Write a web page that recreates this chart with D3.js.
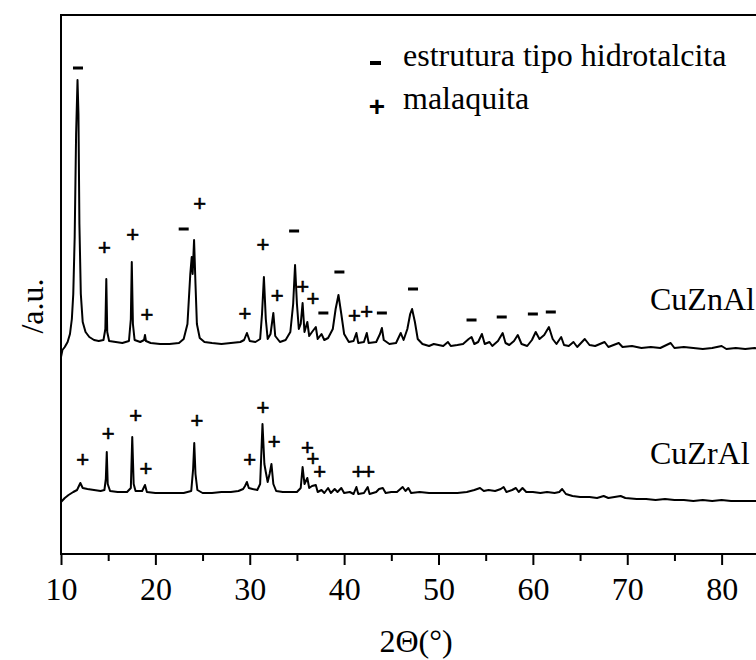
<!DOCTYPE html>
<html>
<head>
<meta charset="utf-8">
<script src="https://cdn.jsdelivr.net/npm/d3@7"></script>
<style>
  html, body { margin: 0; padding: 0; background: #fff; overflow: hidden; }
  svg { display: block; }
  svg text { font-family: "Liberation Serif", "Times New Roman", Times, serif; }
</style>
</head>
<body>
<svg id="chart"></svg>
<script>
// XRD patterns, [2theta, intensity (a.u.)]
const cuZnAl = [
  [10.0, 197], [10.15, 204], [10.4, 207], [10.7, 212], [10.95, 220], [11.15, 235],
  [11.3, 260], [11.45, 317], [11.6, 420], [11.75, 474], [11.85, 440], [11.95, 330],
  [12.1, 260], [12.3, 232], [12.6, 222], [13.0, 217], [13.5, 214], [14.0, 213],
  [14.5, 214], [14.7, 225], [14.8, 275], [14.9, 222], [15.1, 213], [15.8, 212],
  [16.5, 211], [17.2, 213], [17.4, 235], [17.5, 292], [17.62, 230], [17.8, 214],
  [18.4, 212], [18.8, 214], [18.9, 219], [19.0, 213], [19.5, 211], [20.5, 210],
  [21.5, 210], [22.5, 211], [23.0, 215], [23.4, 230], [23.7, 280], [23.85, 297],
  [23.95, 280], [24.1, 314], [24.25, 270], [24.4, 230], [24.7, 216], [25.2, 212],
  [26.0, 211], [27.0, 210], [28.0, 211], [29.0, 212], [29.4, 214], [29.7, 221],
  [30.0, 213], [30.6, 212], [31.1, 215], [31.3, 240], [31.5, 277], [31.7, 235],
  [31.9, 215], [32.2, 220], [32.5, 241], [32.7, 218], [33.2, 212], [33.8, 214],
  [34.3, 222], [34.6, 250], [34.8, 289], [35.0, 250], [35.2, 225], [35.4, 230],
  [35.6, 251], [35.8, 222], [36.1, 232], [36.3, 218], [36.6, 222], [37.0, 227],
  [37.2, 215], [37.6, 220], [37.9, 214], [38.3, 216], [38.8, 225], [39.1, 245],
  [39.4, 259], [39.7, 240], [40.0, 220], [40.5, 212], [41.0, 213], [41.3, 221],
  [41.5, 211], [42.1, 212], [42.4, 221], [42.6, 211], [43.4, 212], [43.8, 220],
  [44.0, 226], [44.2, 214], [44.8, 210], [45.5, 211], [46.0, 221], [46.3, 214],
  [46.7, 225], [47.0, 240], [47.2, 245], [47.5, 232], [47.8, 215], [48.3, 210],
  [49.0, 208], [49.5, 210], [50.0, 209], [50.5, 208], [51.0, 212], [51.3, 208],
  [52.0, 209], [52.6, 210], [53.2, 215], [53.5, 217], [53.8, 210], [54.2, 212],
  [54.6, 220], [54.9, 210], [55.4, 212], [55.7, 208], [56.3, 213], [56.8, 221],
  [57.1, 211], [57.5, 209], [58.0, 213], [58.4, 219], [58.8, 210], [59.4, 208],
  [59.9, 214], [60.3, 222], [60.7, 215], [61.2, 219], [61.7, 227], [62.1, 215],
  [62.5, 210], [63.0, 217], [63.3, 209], [63.8, 208], [64.3, 212], [64.7, 207],
  [65.5, 215], [66.0, 209], [66.6, 208], [67.6, 212], [68.0, 207], [69.1, 211],
  [69.5, 207], [70.5, 208], [71.5, 206], [72.5, 207], [73.5, 206], [74.6, 211],
  [75.0, 206], [76.0, 207], [77.0, 206], [78.0, 205], [79.0, 206], [80.0, 208],
  [80.5, 205], [81.5, 206], [82.5, 205], [83.5, 206], [84.0, 205]
];

const cuZrAl = [
  [10.0, 52], [10.4, 56], [10.8, 59], [11.3, 62], [11.7, 64], [11.9, 68],
  [12.05, 71], [12.3, 66], [12.8, 65], [13.5, 64], [14.2, 63], [14.6, 64],
  [14.75, 75], [14.85, 102], [14.95, 70], [15.2, 63], [16.0, 62], [17.0, 62],
  [17.4, 66], [17.55, 117], [17.7, 70], [17.9, 63], [18.6, 63], [18.9, 69],
  [19.1, 62], [20.0, 61], [21.0, 61], [22.0, 61], [23.0, 61], [23.8, 63],
  [24.0, 85], [24.12, 111], [24.25, 80], [24.45, 64], [25.0, 61], [26.0, 61],
  [27.0, 62], [28.0, 62], [28.8, 63], [29.3, 65], [29.5, 68], [29.7, 72],
  [29.9, 66], [30.3, 65], [30.8, 64], [31.1, 70], [31.35, 130], [31.55, 90],
  [31.7, 82], [31.9, 72], [32.1, 80], [32.3, 90], [32.5, 70], [32.8, 63],
  [33.5, 62], [34.2, 62], [35.0, 62], [35.4, 66], [35.6, 87], [35.8, 70],
  [36.1, 76], [36.3, 66], [36.6, 68], [37.0, 69], [37.2, 62], [37.6, 64],
  [37.9, 61], [38.3, 66], [38.6, 61], [39.0, 65], [39.3, 62], [39.7, 66],
  [40.0, 61], [40.6, 62], [41.0, 60], [41.3, 67], [41.5, 60], [42.1, 61],
  [42.5, 67], [42.7, 60], [43.4, 62], [43.7, 65], [44.1, 66], [44.4, 61],
  [45.0, 62], [45.6, 62], [46.2, 67], [46.5, 63], [46.8, 66], [47.1, 61],
  [48.0, 62], [49.0, 61], [50.0, 61], [51.0, 61], [52.0, 61], [53.0, 62],
  [53.8, 64], [54.4, 66], [54.8, 63], [55.3, 64], [56.0, 63], [56.6, 65],
  [56.9, 67], [57.2, 62], [57.8, 64], [58.2, 66], [58.5, 62], [58.9, 66],
  [59.3, 62], [60.0, 62], [60.8, 61], [61.5, 62], [62.3, 61], [62.8, 62],
  [63.1, 65], [63.5, 60], [64.2, 58], [65.0, 57], [66.0, 57], [66.8, 56],
  [67.5, 58], [68.0, 56], [69.3, 58], [69.8, 56], [71.0, 55], [72.0, 55],
  [73.0, 54], [74.0, 55], [75.0, 54], [76.0, 54], [77.0, 53], [78.0, 54],
  [79.0, 53], [80.0, 54], [81.0, 53], [82.0, 53], [83.0, 53], [84.0, 53]
];

// phase markers: [2theta, intensity]
const hydrotalciteMarks = [
  [11.8, 486], [23.0, 325], [34.7, 323], [37.8, 241], [39.5, 282], [44.0, 241],
  [47.3, 265], [53.5, 234], [56.7, 237], [60.0, 240], [61.9, 242]
];
const malachiteMarks = [
  // CuZnAl
  [14.6, 307], [17.6, 320], [19.1, 240], [24.7, 351], [29.5, 241], [31.4, 310],
  [32.9, 259], [35.6, 268], [36.7, 256], [41.1, 239], [42.4, 243],
  // CuZrAl
  [12.3, 95], [15.0, 121], [17.9, 139], [19.0, 86], [24.4, 134], [30.0, 95],
  [31.4, 147], [32.6, 113], [36.1, 107], [36.7, 96], [37.4, 83], [41.5, 83],
  [42.6, 83]
];

const sampleNames = ['CuZnAl', 'CuZrAl'];
const legendLabels = ['estrutura tipo hidrotalcita', 'malaquita'];
const majorTicks = [10, 20, 30, 40, 50, 60, 70, 80];
const minorTicks = [15, 25, 35, 45, 55, 65, 75];

const CONFIG = {
  width: 756,
  height: 660,
  left: 61,
  top: 15,
  bottom: 554,
  right: 816,
  serif: '"Liberation Serif", "Times New Roman", Times, serif',
  sans: '"Liberation Sans", Arial, sans-serif'
};

const svg = d3.select('#chart')
  .attr('width', CONFIG.width)
  .attr('height', CONFIG.height);

const x = d3.scaleLinear().domain([10, 90]).range([CONFIG.left, CONFIG.right]);
const y = d3.scaleLinear().domain([0, 540]).range([CONFIG.bottom, CONFIG.bottom - 540]);

// frame (right side falls outside the picture, as in the original)
svg.append('rect')
  .attr('x', CONFIG.left)
  .attr('y', CONFIG.top)
  .attr('width', CONFIG.right - CONFIG.left)
  .attr('height', CONFIG.bottom - CONFIG.top)
  .attr('fill', 'none')
  .attr('stroke', '#000')
  .attr('stroke-width', 2);

// x axis: minor ticks, then major ticks with labels
const minorAxis = svg.append('g')
  .attr('transform', `translate(0,${CONFIG.bottom})`)
  .call(d3.axisBottom(x).tickValues(minorTicks).tickSize(7).tickFormat(''));

const majorAxis = svg.append('g')
  .attr('transform', `translate(0,${CONFIG.bottom})`)
  .call(d3.axisBottom(x).tickValues(majorTicks).tickSize(11).tickPadding(12).tickFormat(d3.format('d')));

[minorAxis, majorAxis].forEach(g => {
  g.select('.domain').remove();
  g.attr('font-family', null);
  g.selectAll('line').attr('stroke', '#000').attr('stroke-width', 2);
});

majorAxis.selectAll('text')
  .attr('fill', '#000')
  .style('font-family', CONFIG.serif)
  .style('font-size', '32px');

// axis titles
svg.append('text')
  .attr('x', 416)
  .attr('y', 652)
  .attr('text-anchor', 'middle')
  .style('font-family', CONFIG.serif)
  .style('font-size', '32px')
  .text('2Θ(°)');

svg.append('text')
  .attr('transform', 'translate(43,306) rotate(-90)')
  .attr('text-anchor', 'middle')
  .style('font-family', CONFIG.serif)
  .style('font-size', '32px')
  .text('/a.u.');

// patterns
const line = d3.line()
  .x(d => x(d[0]))
  .y(d => y(d[1]));

svg.selectAll('.pattern')
  .data([cuZnAl, cuZrAl])
  .enter().append('path')
  .attr('class', 'pattern')
  .attr('d', line)
  .attr('fill', 'none')
  .attr('stroke', '#000')
  .attr('stroke-width', 2)
  .attr('stroke-linejoin', 'round');

// sample labels
svg.selectAll('.sample')
  .data(sampleNames)
  .enter().append('text')
  .attr('class', 'sample')
  .attr('x', 650)
  .attr('y', (d, i) => i === 0 ? 310 : 464)
  .style('font-family', CONFIG.serif)
  .style('font-size', '32px')
  .text(d => d);

// phase markers: short thick dash for hydrotalcite, plus sign for malachite
svg.append('g').selectAll('rect')
  .data(hydrotalciteMarks)
  .enter().append('rect')
  .attr('x', d => x(d[0]) - 5)
  .attr('y', d => y(d[1]) - 1.5)
  .attr('width', 10)
  .attr('height', 3)
  .attr('fill', '#000');

svg.append('g').selectAll('text')
  .data(malachiteMarks)
  .enter().append('text')
  .attr('x', d => x(d[0]))
  .attr('y', d => y(d[1]))
  .attr('text-anchor', 'middle')
  .attr('dominant-baseline', 'central')
  .attr('stroke', '#000')
  .attr('stroke-width', 0.6)
  .style('font-family', CONFIG.sans)
  .style('font-size', '22px')
  .text('+');

// legend
const legend = svg.append('g');
legend.append('rect')
  .attr('x', 370)
  .attr('y', 61)
  .attr('width', 11)
  .attr('height', 4)
  .attr('fill', '#000');
legend.append('text')
  .attr('x', 377)
  .attr('y', 106)
  .attr('text-anchor', 'middle')
  .attr('dominant-baseline', 'central')
  .style('font-family', CONFIG.sans)
  .style('font-weight', 'bold')
  .style('font-size', '28px')
  .text('+');
legend.selectAll('.legend-label')
  .data(legendLabels)
  .enter().append('text')
  .attr('class', 'legend-label')
  .attr('x', 403)
  .attr('y', (d, i) => 66 + i * 43)
  .style('font-family', CONFIG.serif)
  .style('font-size', '32px')
  .text(d => d);
</script>
</body>
</html>
